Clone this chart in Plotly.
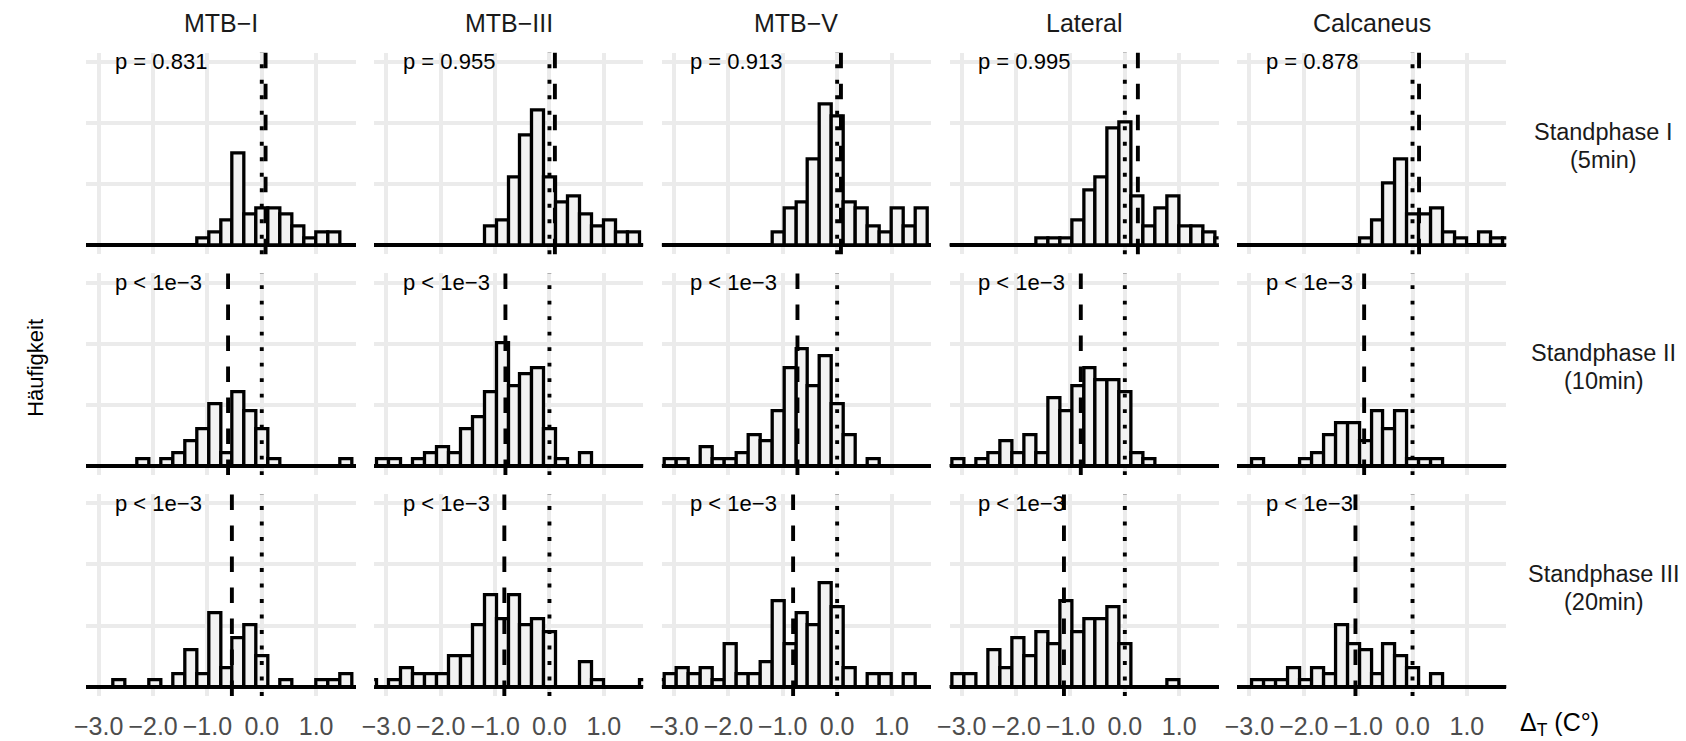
import plotly.graph_objects as go

W, H = 1686, 741

# facet labels
sites = ["MTB−I", "MTB−III", "MTB−V", "Lateral", "Calcaneus"]
phase_names = ["Standphase I", "Standphase II", "Standphase III"]
phase_times = ["(5min)", "(10min)", "(20min)"]

# common histogram bins (width 0.22 °C)
bin_width = 0.22
bin_centers = [-3.28, -3.06, -2.84, -2.62, -2.40, -2.18, -1.96, -1.74,
               -1.52, -1.30, -1.08, -0.86, -0.64, -0.42, -0.20, 0.02,
               0.24, 0.46, 0.68, 0.90, 1.12, 1.34, 1.56, 1.78]

# counts per bin, one list per site
counts_phase1 = [
    [0, 0, 0, 0, 0, 0, 0, 0, 0, 0, 1, 2, 4, 15, 5, 6, 6, 5, 3, 1, 2, 2, 0, 0],
    [0, 0, 0, 0, 0, 0, 0, 0, 0, 0, 3, 4, 11, 18, 22, 11, 7, 8, 5, 3, 4, 2, 2, 0],
    [0, 0, 0, 0, 0, 0, 0, 0, 0, 0, 2, 6, 7, 14, 23, 21, 7, 6, 3, 2, 6, 3, 6, 0],
    [0, 0, 0, 0, 0, 0, 0, 0, 1, 1, 1, 4, 9, 11, 19, 20, 8, 3, 6, 8, 3, 3, 2, 1],
    [0, 0, 0, 0, 0, 0, 0, 0, 0, 0, 0, 1, 4, 10, 14, 5, 5, 6, 2, 1, 0, 2, 1, 1],
]
counts_phase2 = [
    [0, 0, 0, 0, 0, 1, 0, 1, 2, 4, 6, 10, 2, 12, 9, 6, 1, 0, 0, 0, 0, 0, 1, 0],
    [0, 1, 1, 0, 1, 2, 3, 2, 6, 8, 12, 20, 13, 15, 16, 6, 1, 0, 2, 0, 0, 0, 0, 0],
    [0, 1, 1, 0, 3, 1, 1, 2, 5, 4, 9, 16, 19, 13, 18, 10, 5, 0, 1, 0, 0, 0, 0, 0],
    [0, 1, 0, 1, 2, 4, 2, 5, 2, 11, 9, 13, 16, 14, 14, 12, 2, 1, 0, 0, 0, 0, 0, 0],
    [0, 0, 1, 0, 0, 0, 1, 2, 5, 7, 7, 4, 9, 6, 9, 1, 1, 1, 0, 0, 0, 0, 0, 0],
]
counts_phase3 = [
    [0, 0, 0, 1, 0, 0, 1, 0, 2, 6, 2, 12, 3, 8, 10, 5, 0, 1, 0, 0, 1, 1, 2, 0],
    [1, 0, 1, 3, 2, 2, 2, 5, 5, 10, 15, 11, 15, 10, 11, 9, 0, 0, 4, 1, 0, 0, 0, 1],
    [1, 2, 3, 2, 3, 1, 7, 2, 2, 4, 14, 7, 12, 10, 17, 13, 3, 0, 2, 2, 0, 2, 0, 0],
    [0, 2, 2, 0, 6, 3, 8, 5, 9, 7, 14, 9, 11, 11, 13, 7, 0, 0, 0, 1, 0, 0, 0, 0],
    [0, 0, 1, 1, 1, 3, 1, 3, 2, 10, 7, 6, 2, 7, 5, 3, 0, 2, 0, 0, 0, 0, 0, 0],
]
counts = [counts_phase1, counts_phase2, counts_phase3]

# mean temperature change per panel (dashed lines)
mean_phase1 = [0.07, 0.10, 0.07, 0.24, 0.12]
mean_phase2 = [-0.62, -0.81, -0.73, -0.81, -0.89]
mean_phase3 = [-0.55, -0.83, -0.81, -1.12, -1.05]
means = [mean_phase1, mean_phase2, mean_phase3]

# test results per panel
p_phase1 = ["p = 0.831", "p = 0.955", "p = 0.913", "p = 0.995", "p = 0.878"]
p_phase2 = ["p < 1e−3"] * 5
p_phase3 = ["p < 1e−3"] * 5
p_labels = [p_phase1, p_phase2, p_phase3]

x_tickvals = [-3, -2, -1, 0, 1]
x_ticktext = ["−3.0", "−2.0", "−1.0", "0.0", "1.0"]
y_gridvals = [0, 10, 20, 30]

# panel geometry in pixels
PX0, PX_PITCH, PW = 75.0, 289.75, 271.0
PY0, PY_PITCH, PH = 52.5, 220.85, 201.7
X_RANGE = [-3.225, 1.725]
Y_RANGE = [-1.5, 31.5]

FONT = "Liberation Sans, Arial, sans-serif"
GRID = "#EBEBEB"

fig = go.Figure()
layout = dict(
    width=W, height=H,
    margin=dict(l=0, r=0, t=0, b=0),
    paper_bgcolor="white", plot_bgcolor="white",
    showlegend=False,
    bargap=0,
    barmode="overlay",
    font=dict(family=FONT, color="black"),
)
shapes = []
annotations = []

for r in range(3):
    for c in range(5):
        idx = r * 5 + c + 1
        xs = "" if idx == 1 else str(idx)
        x0 = PX0 + c * PX_PITCH
        y0 = PY0 + r * PY_PITCH
        layout["xaxis" + xs] = dict(
            domain=[x0 / W, (x0 + PW) / W],
            anchor="y" + xs,
            range=X_RANGE,
            tickvals=x_tickvals,
            ticktext=x_ticktext,
            tickangle=0,
            showticklabels=(r == 2),
            ticks="",
            ticklabelstandoff=13,
            tickfont=dict(family=FONT, size=25, color="#4D4D4D"),
            showgrid=True, gridcolor=GRID, gridwidth=3.5,
            zeroline=False, showline=False, fixedrange=True,
        )
        layout["yaxis" + xs] = dict(
            domain=[1 - (y0 + PH) / H, 1 - y0 / H],
            anchor="x" + xs,
            range=Y_RANGE,
            tickvals=y_gridvals,
            showticklabels=False,
            ticks="",
            showgrid=True, gridcolor=GRID, gridwidth=3.5,
            zeroline=True, zerolinecolor="black", zerolinewidth=3.6,
            showline=False, fixedrange=True,
        )
        fig.add_trace(go.Bar(
            x=bin_centers, y=counts[r][c], width=bin_width,
            marker=dict(color="#F2F2F2", line=dict(color="black", width=3.3)),
            xaxis="x" + xs, yaxis="y" + xs, hoverinfo="skip",
        ))
        # reference line at zero (dotted) and mean (dashed)
        shapes.append(dict(
            type="line", xref="x" + xs, yref="y" + xs + " domain",
            x0=0, x1=0, y0=0, y1=1,
            line=dict(color="black", width=3.9, dash="3.9px,11.6px"),
        ))
        shapes.append(dict(
            type="line", xref="x" + xs, yref="y" + xs + " domain",
            x0=means[r][c], x1=means[r][c], y0=0, y1=1,
            line=dict(color="black", width=3.9, dash="15.5px,15.5px"),
        ))
        annotations.append(dict(
            xref="x" + xs, yref="y" + xs, x=-2.74, y=30,
            text=p_labels[r][c], showarrow=False,
            xanchor="left", yanchor="middle",
            font=dict(family=FONT, size=22, color="black"),
        ))

# column strips
for c, name in enumerate(sites):
    annotations.append(dict(
        xref="paper", yref="paper",
        x=(PX0 + c * PX_PITCH + PW / 2) / W, y=1 - 23 / H,
        text=name, showarrow=False, xanchor="center", yanchor="middle",
        font=dict(family=FONT, size=25, color="#1A1A1A"),
    ))

# row strips
for r in range(3):
    cy = PY0 + r * PY_PITCH + PH / 2 - 7
    for k, txt in enumerate([phase_names[r], phase_times[r]]):
        annotations.append(dict(
            xref="paper", yref="paper",
            x=1603 / W, y=1 - (cy + (k - 0.5) * 28) / H,
            text=txt, showarrow=False, xanchor="center", yanchor="middle",
            font=dict(family=FONT, size=23.5, color="#1A1A1A"),
        ))

# axis titles
annotations.append(dict(
    xref="paper", yref="paper", x=23 / W, y=1 - 368 / H,
    text="Häufigkeit", textangle=-90, showarrow=False,
    xanchor="center", yanchor="middle",
    font=dict(family=FONT, size=22, color="black"),
))
annotations.append(dict(
    xref="paper", yref="paper", x=1517 / W, y=1 - 724 / H,
    text="Δ<sub>T</sub> (C°)", showarrow=False,
    xanchor="left", yanchor="middle",
    font=dict(family=FONT, size=25, color="black"),
))

layout["shapes"] = shapes
layout["annotations"] = annotations
fig.update_layout(**layout)
fig.write_html("out.html", post_script="document.body.style.margin = '0px';")
